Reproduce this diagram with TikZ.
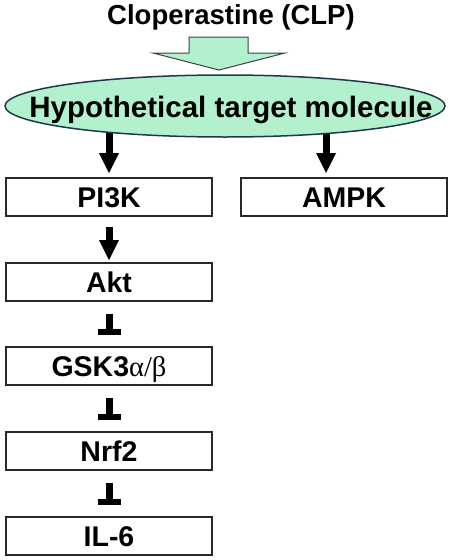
\documentclass[tikz,border=0pt]{standalone}
\usepackage{fontspec}
\setmainfont{Liberation Sans}
\newfontfamily\greekfont{Liberation Serif}
\usetikzlibrary{positioning,arrows.meta,backgrounds,shapes.geometric}
\definecolor{mint}{RGB}{178,240,206}
\definecolor{edgeblue}{RGB}{30,55,75}
\definecolor{boxgray}{RGB}{40,40,40}

\tikzset{
  protein/.style={draw=boxgray, line width=2pt, minimum width=206pt, minimum height=38pt,
    inner sep=0pt, text height=20pt, text depth=0pt, font=\fontsize{28.5pt}{30pt}\selectfont\bfseries},
  activates/.style={line width=7pt, -{Triangle[width=20pt,length=20pt,line width=0pt]}},
  inhibits/.style={line width=7pt, -{Rectangle[width=23pt,length=6pt,line width=0pt]}},
}

\begin{document}
\begin{tikzpicture}[x=1pt, y=-1pt]
  \useasboundingbox (0,0) rectangle (450,560);
  \node[font=\fontsize{27.5pt}{30pt}\selectfont\bfseries, anchor=base] (clp) at (231,24) {Cloperastine (CLP)};
  \draw[fill=mint, draw=darkgray, line width=1pt] (189,37) -- (248,37) -- (248,53) -- (285,53)
    -- (219,70) -- (153,53) -- (189,53) -- cycle;
  \node[ellipse, draw=edgeblue, fill=mint, line width=1.5pt, minimum width=440pt, minimum height=62pt] (target) at (225,106) {};
  \node[font=\fontsize{29.5pt}{31pt}\selectfont\bfseries, anchor=base] (targettext) at (231,117) {Hypothetical target molecule};

  \node[protein] (pi3k) at (109,197) {PI3K};
  \node[protein, right=27pt of pi3k] (ampk) {AMPK};
  \node[protein, below=45pt of pi3k] (akt) {Akt};
  \node[protein, below=44pt of akt] (gsk) {GSK3{\greekfont\mdseries α/β}};
  \node[protein, below=45pt of gsk] (nrf) {Nrf2};
  \node[protein, below=45pt of nrf] (il) {IL-6};
  \coordinate (ampkin) at ([xshift=-18pt]ampk.north);

  \begin{scope}[on background layer]
    \draw[activates, shorten >=4pt] (target.center -| pi3k.north) -- (pi3k.north);
    \draw[activates, shorten >=4pt] (target.center -| ampkin) -- (ampkin);
  \end{scope}
  \draw[activates, shorten <=10pt, shorten >=2pt] (pi3k) -- (akt);
  \draw[inhibits, shorten <=12pt, shorten >=11pt] (akt) -- (gsk);
  \draw[inhibits, shorten <=12pt, shorten >=11pt] (gsk) -- (nrf);
  \draw[inhibits, shorten <=12pt, shorten >=11pt] (nrf) -- (il);
\end{tikzpicture}
\end{document}
